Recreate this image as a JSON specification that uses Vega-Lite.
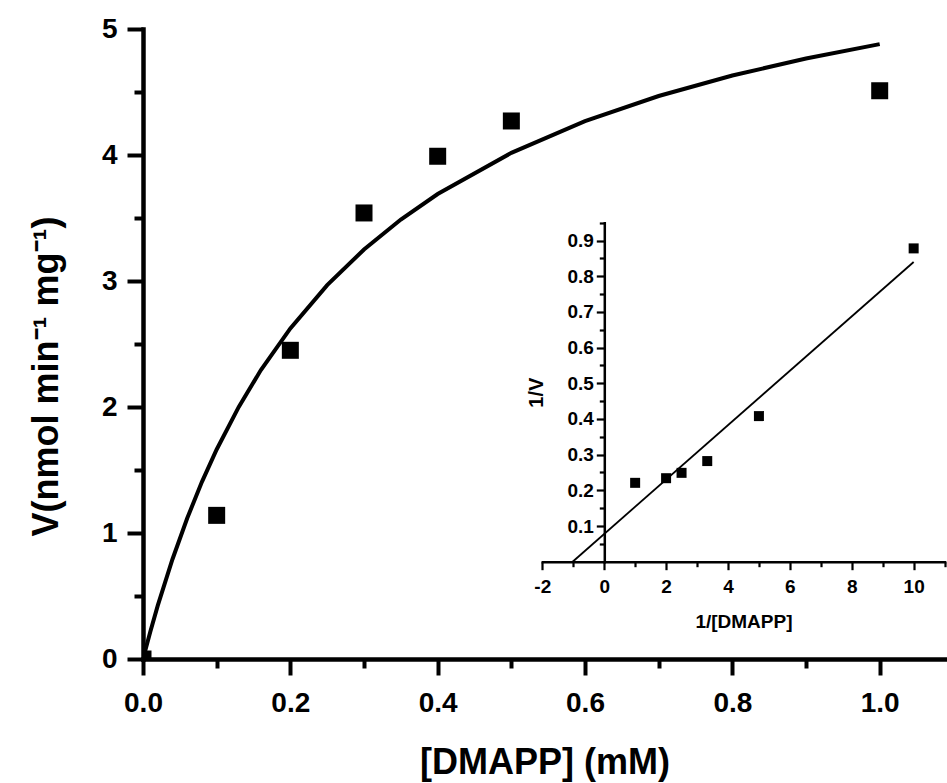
{
  "$schema": "https://vega.github.io/schema/vega-lite/v6.json",
  "width": 803,
  "height": 630,
  "autosize": "none",
  "padding": {"left": 143, "top": 29, "right": 1, "bottom": 124},
  "background": "white",
  "config": {
    "view": {"stroke": null},
    "axis": {
      "grid": false,
      "labelFont": "Liberation Sans",
      "titleFont": "Liberation Sans",
      "labelFontWeight": "bold",
      "titleFontWeight": "bold",
      "labelColor": "black",
      "titleColor": "black",
      "domainColor": "black",
      "tickColor": "black",
      "domainCap": "square",
      "labelOverlap": false,
      "labelFlush": false
    },
    "axisY": {"domainWidth": 4.5, "tickWidth": 4}
  },
  "datasets": {
    "main_points": [
      {"S": 0, "V": 0},
      {"S": 0.1, "V": 1.14},
      {"S": 0.2, "V": 2.45},
      {"S": 0.3, "V": 3.54},
      {"S": 0.4, "V": 3.99},
      {"S": 0.5, "V": 4.27},
      {"S": 1.0, "V": 4.51}
    ],
    "main_curve": [
      {"S": 0, "V": 0},
      {"S": 0.01, "V": 0.219},
      {"S": 0.02, "V": 0.423},
      {"S": 0.04, "V": 0.792},
      {"S": 0.06, "V": 1.117},
      {"S": 0.08, "V": 1.406},
      {"S": 0.1, "V": 1.663},
      {"S": 0.13, "V": 2.001},
      {"S": 0.16, "V": 2.293},
      {"S": 0.2, "V": 2.624},
      {"S": 0.25, "V": 2.967},
      {"S": 0.3, "V": 3.25},
      {"S": 0.35, "V": 3.488},
      {"S": 0.4, "V": 3.69},
      {"S": 0.5, "V": 4.017},
      {"S": 0.6, "V": 4.268},
      {"S": 0.7, "V": 4.468},
      {"S": 0.8, "V": 4.631},
      {"S": 0.9, "V": 4.766},
      {"S": 1.0, "V": 4.88}
    ],
    "inset_points": [
      {"invS": 1, "invV": 0.221},
      {"invS": 2, "invV": 0.234},
      {"invS": 2.5, "invV": 0.249},
      {"invS": 3.33, "invV": 0.282},
      {"invS": 5, "invV": 0.408},
      {"invS": 10, "invV": 0.878}
    ],
    "inset_line": [
      {"invS": -1.02, "invV": 0},
      {"invS": 10, "invV": 0.84}
    ]
  },
  "layer": [
    {
      "layer": [
        {
          "data": {"name": "main_curve"},
          "mark": {"type": "line", "color": "black", "strokeWidth": 4, "clip": true},
          "encoding": {
            "x": {
              "field": "S", "type": "quantitative",
              "scale": {"domain": [0, 1.09], "nice": false, "zero": false},
              "axis": {
                "orient": "bottom",
                "title": "[DMAPP] (mM)",
                "values": [0, 0.2, 0.4, 0.6, 0.8, 1.0],
                "format": ".1f",
                "tickSize": 16,
                "tickWidth": 4,
                "domainWidth": 4.5,
                "labelFontSize": 28,
                "labelPadding": 14,
                "titleFontSize": 36,
                "titlePadding": 28
              }
            },
            "y": {
              "field": "V", "type": "quantitative",
              "scale": {"domain": [0, 5], "nice": false, "zero": false},
              "axis": {
                "orient": "left",
                "title": "V(nmol min⁻¹ mg⁻¹)",
                "values": [0, 1, 2, 3, 4, 5],
                "format": "d",
                "tickSize": 16,
                "tickWidth": 4,
                "domainWidth": 4.5,
                "labelFontSize": 28,
                "labelPadding": 10,
                "titleFontSize": 36,
                "titlePadding": 36,
                "titleY": 347
              }
            }
          }
        },
        {
          "data": {"name": "main_points"},
          "mark": {"type": "point", "shape": "square", "filled": true, "color": "black", "opacity": 1, "size": 289, "clip": true},
          "encoding": {
            "x": {
              "field": "S", "type": "quantitative",
              "axis": {
                "orient": "bottom",
                "title": null,
                "labels": false,
                "domain": false,
                "values": [0.1, 0.3, 0.5, 0.7, 0.9],
                "tickSize": 9,
                "tickWidth": 4
              }
            },
            "y": {
              "field": "V", "type": "quantitative",
              "axis": {
                "orient": "left",
                "title": null,
                "labels": false,
                "domain": false,
                "values": [0.5, 1.5, 2.5, 3.5, 4.5],
                "tickSize": 9,
                "tickWidth": 4
              }
            }
          }
        }
      ],
      "resolve": {"axis": {"x": "independent", "y": "independent"}}
    },
    {
      "layer": [
        {
          "data": {"name": "inset_line"},
          "mark": {"type": "line", "color": "black", "strokeWidth": 1.8},
          "encoding": {
            "x": {
              "field": "invS", "type": "quantitative",
              "scale": {"domain": [-2, 11], "range": [399.3, 801.6], "nice": false, "zero": false},
              "axis": {
                "orient": "bottom",
                "offset": -97.3,
                "title": "1/[DMAPP]",
                "values": [-2, 0, 2, 4, 6, 8, 10],
                "labelExpr": "'' + datum.value",
                "tickSize": 8,
                "tickWidth": 2.2,
                "domainWidth": 2.5,
                "labelFontSize": 19,
                "labelPadding": 8,
                "titleFontSize": 19,
                "titlePadding": 16
              }
            },
            "y": {
              "field": "invV", "type": "quantitative",
              "scale": {"domain": [0, 0.95], "range": [532.7, 193.7], "nice": false, "zero": false},
              "axis": {
                "orient": "left",
                "offset": -461.3,
                "title": "1/V",
                "values": [0.1, 0.2, 0.3, 0.4, 0.5, 0.6, 0.7, 0.8, 0.9],
                "format": ".1f",
                "tickSize": 8,
                "tickWidth": 2.2,
                "domainWidth": 2.5,
                "labelFontSize": 19,
                "labelPadding": 3,
                "titleFontSize": 20,
                "titlePadding": 20
              }
            }
          }
        },
        {
          "data": {"name": "inset_points"},
          "mark": {"type": "point", "shape": "square", "filled": true, "color": "black", "opacity": 1, "size": 100},
          "encoding": {
            "x": {
              "field": "invS", "type": "quantitative",
              "axis": {
                "orient": "bottom",
                "offset": -97.3,
                "title": null,
                "labels": false,
                "domain": false,
                "values": [-1, 1, 3, 5, 7, 9, 11],
                "tickSize": 5,
                "tickWidth": 2.2
              }
            },
            "y": {
              "field": "invV", "type": "quantitative",
              "axis": {
                "orient": "left",
                "offset": -461.3,
                "title": null,
                "labels": false,
                "domain": false,
                "values": [0.05, 0.15, 0.25, 0.35, 0.45, 0.55, 0.65, 0.75, 0.85, 0.95],
                "tickSize": 5,
                "tickWidth": 2.2
              }
            }
          }
        }
      ],
      "resolve": {"axis": {"x": "independent", "y": "independent"}}
    }
  ],
  "resolve": {
    "scale": {"x": "independent", "y": "independent"},
    "axis": {"x": "independent", "y": "independent"}
  }
}
